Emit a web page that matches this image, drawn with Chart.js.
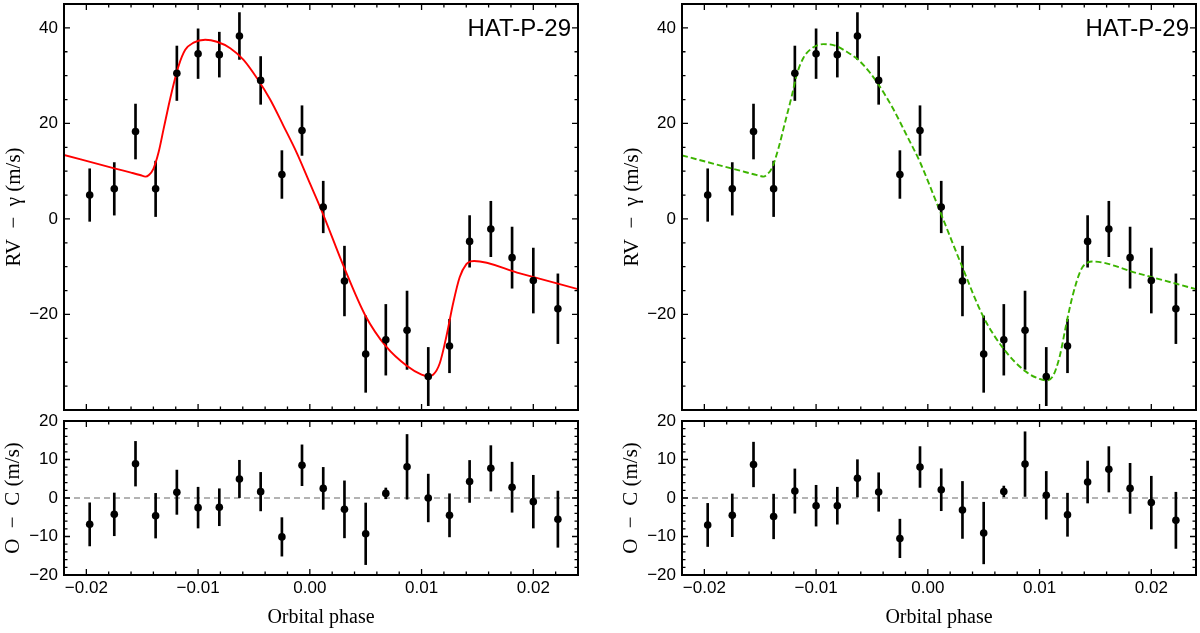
<!DOCTYPE html>
<html><head><meta charset="utf-8">
<script src="https://cdn.jsdelivr.net/npm/chart.js@4.4.1/dist/chart.umd.min.js"></script>
<style>
html,body{margin:0;padding:0;background:#fff;width:1200px;height:633px;overflow:hidden}
canvas{position:absolute}
</style></head><body>
<canvas id="lt" width="600" height="418" style="left:0;top:0"></canvas>
<canvas id="rt" width="600" height="418" style="left:600px;top:0"></canvas>
<canvas id="lb" width="600" height="233" style="left:0;top:400px"></canvas>
<canvas id="rb" width="600" height="233" style="left:600px;top:400px"></canvas>
<script>
// ---- data ----
const targetName = 'HAT-P-29';
const phase = [-0.0197, -0.0175, -0.0156, -0.0138, -0.0119, -0.0100, -0.0081, -0.0063, -0.0044, -0.0025, -0.0007, 0.0012,
               0.0031, 0.0050, 0.0068, 0.0087, 0.0106, 0.0125, 0.0143, 0.0162, 0.0181, 0.0200, 0.0222];
const rv = [5.0, 6.3, 18.3, 6.3, 30.5, 34.6, 34.4, 38.3, 29.0, 9.3, 18.5, 2.5,
            -13.0, -28.3, -25.3, -23.3, -33.0, -26.6, -4.7, -2.1, -8.1, -12.9, -18.8];
const rvErr = [5.5, 5.5, 5.75, 5.8, 5.7, 5.2, 4.7, 4.9, 5.0, 5.0, 5.2, 5.4,
               7.3, 8.0, 7.4, 8.2, 6.1, 5.6, 5.4, 5.8, 6.4, 6.8, 7.3];
const resLeft = [-6.85, -4.25, 8.9, -4.6, 1.5, -2.5, -2.4, 4.95, 1.65, -10.1, 8.5, 2.5,
                 -2.95, -9.3, 1.2, 8.1, 0.0, -4.5, 4.3, 7.7, 2.8, -0.95, -5.5];
const resRight = [-7.0, -4.5, 8.7, -4.8, 1.8, -2.0, -2.0, 5.1, 1.55, -10.5, 8.05, 2.15,
                  -3.1, -9.1, 1.7, 8.8, 0.7, -4.35, 4.15, 7.45, 2.5, -1.2, -5.8];
const resErr = [5.6, 5.55, 5.8, 5.8, 5.75, 5.3, 4.8, 4.85, 5.0, 5.0, 5.3, 5.45,
                7.4, 8.0, 1.4, 8.4, 6.2, 5.6, 5.45, 5.9, 6.5, 6.85, 7.3];
const redPhase = [-0.022, -0.0175, -0.0160, -0.0152, -0.0147, -0.0144, -0.0140, -0.01353, -0.01309, -0.01264, -0.01219,
                  -0.01175, -0.01115, -0.0104, -0.00936, -0.00832, -0.00712, -0.00593, -0.00474, -0.00355, -0.00236,
                  -0.00116, 0.0, 0.0011, 0.00306, 0.00494, 0.00682, 0.0087, 0.0100, 0.01058, 0.01103, 0.01163,
                  0.01222, 0.01282, 0.01341, 0.01401, 0.0144, 0.0147, 0.0188, 0.024];
const redModel = [13.4, 10.6, 9.7, 9.2, 8.85, 9.2, 10.5, 14.0, 18.8, 23.7, 28.2,
                  32.0, 35.4, 36.9, 37.5, 37.1, 35.75, 33.3, 29.5, 25.0, 19.5,
                  13.8, 7.5, 1.5, -10.1, -20.1, -26.7, -30.8, -32.6, -32.9, -32.6, -30.2,
                  -24.6, -17.7, -12.2, -9.46, -8.9, -8.8, -11.4, -14.7];
const greenPhase = [-0.022, -0.0168, -0.0155, -0.0150, -0.0147, -0.0144, -0.01397, -0.01338, -0.01278, -0.01218, -0.01173,
                    -0.01114, -0.01039, -0.00935, -0.0083, -0.00726, -0.00622, -0.00517, -0.00413, -0.00309, -0.00189,
                    -0.0007, 0.00062, 0.00309, 0.00497, 0.00685, 0.00873, 0.0100, 0.0106, 0.0112, 0.0118, 0.0124,
                    0.0130, 0.01374, 0.01434, 0.0147, 0.0188, 0.024];
const greenModel = [13.3, 10.1, 9.3, 9.0, 8.85, 9.3, 10.56, 14.7, 20.2, 25.7, 30.2,
                    33.7, 35.7, 36.6, 36.3, 35.0, 33.3, 30.6, 27.1, 23.0, 17.5,
                    11.9, 4.35, -10.1, -20.5, -27.4, -31.9, -33.5, -33.8, -32.9, -28.8, -21.9,
                    -15.7, -10.5, -9.1, -8.9, -11.4, -14.7];
const xTicks = [-0.02, -0.01, 0.0, 0.01, 0.02];
const topYTicks = [-20, 0, 20, 40];
const resYTicks = [-20, -10, 0, 10, 20];
const zeroLine = [-0.022, 0.024];

// ---- helpers ----
const MINUS = '\u2212';
const fmtX = v => Math.abs(v) < 1e-9 ? '0.00' : (v < 0 ? MINUS : '') + Math.abs(v).toFixed(2);
const fmtY = v => Math.abs(v) < 1e-9 ? '0' : (v < 0 ? MINUS : '') + Math.abs(v);
const sans = '"Liberation Sans", Arial, sans-serif';
const serif = '"Liberation Serif", "Times New Roman", serif';

const framePlugin = {
  id: 'frame',
  afterDraw(chart, args, o) {
    const {ctx, chartArea: a, scales: {x, y}} = chart;
    ctx.save();
    ctx.strokeStyle = '#000';
    ctx.lineWidth = 1.3;
    const tickSet = (scale, step, major, horiz) => {
      const n0 = Math.ceil(scale.min / step - 1e-6), n1 = Math.floor(scale.max / step + 1e-6);
      for (let k = n0; k <= n1; k++) {
        const v = k * step;
        const isMajor = Math.abs(v / major - Math.round(v / major)) < 1e-6;
        const len = isMajor ? o.majorLen : o.minorLen;
        const p = scale.getPixelForValue(v);
        ctx.beginPath();
        if (horiz) {
          ctx.moveTo(p, a.bottom); ctx.lineTo(p, a.bottom - len);
          ctx.moveTo(p, a.top); ctx.lineTo(p, a.top + len);
        } else {
          ctx.moveTo(a.left, p); ctx.lineTo(a.left + len, p);
          ctx.moveTo(a.right, p); ctx.lineTo(a.right - len, p);
        }
        ctx.stroke();
      }
    };
    tickSet(x, o.xMinor, o.xMajor, true);
    tickSet(y, o.yMinor, o.yMajor, false);
    ctx.lineWidth = 2;
    ctx.strokeRect(a.left, a.top, a.right - a.left, a.bottom - a.top);
    ctx.restore();
  }
};
const namePlugin = {
  id: 'name',
  afterDraw(chart, args, o) {
    if (!o.text) return;
    const {ctx, chartArea: a} = chart;
    ctx.save();
    ctx.font = '24px ' + sans;
    ctx.textAlign = 'right';
    ctx.textBaseline = 'alphabetic';
    ctx.fillStyle = '#000';
    ctx.fillText(o.text, a.right - 7, a.top + 32);
    ctx.restore();
  }
};
const zeroPad = s => { s.paddingTop = 0; s.paddingBottom = 0; s.paddingLeft = 0; s.paddingRight = 0; };

function makeChart(id, opt) {
  const {L, R, H, top, bottom, isTop, yMin, yMax, yTicks, yTitle, titlePad, datasets, yMinor, yMajor} = opt;
  new Chart(document.getElementById(id), {
    type: 'scatter',
    data: {datasets},
    plugins: [framePlugin, namePlugin],
    options: {
      responsive: false,
      animation: false,
      events: [],
      layout: {padding: {left: 0, top: top, right: 600 - R, bottom: isTop ? H - bottom : 0}},
      plugins: {
        legend: {display: false},
        tooltip: {enabled: false},
        frame: {xMinor: 0.002, xMajor: 0.01, yMinor, yMajor, majorLen: 6, minorLen: 3.5},
        name: {text: isTop ? targetName : ''}
      },
      scales: {
        x: {
          type: 'linear', min: -0.022, max: 0.024, offset: false,
          display: !isTop,
          grid: {display: false, drawTicks: false, offset: false},
          border: {display: false},
          afterBuildTicks: s => { s.ticks = xTicks.map(v => ({value: v})); },
          afterFit: s => { s.height = H - bottom; zeroPad(s); },
          ticks: {callback: v => fmtX(v), font: {family: sans, size: 17}, color: '#000', padding: 3, maxRotation: 0, autoSkip: false},
          title: {display: true, text: 'Orbital phase', font: {family: serif, size: 20}, color: '#000', padding: {top: 0, bottom: 3}}
        },
        y: {
          type: 'linear', min: yMin, max: yMax,
          grid: {display: false, drawTicks: false},
          border: {display: false},
          afterBuildTicks: s => { s.ticks = yTicks.map(v => ({value: v})); },
          afterFit: s => { s.width = L; zeroPad(s); },
          ticks: {callback: v => fmtY(v), font: {family: sans, size: 17}, color: '#000', padding: 6, autoSkip: false},
          title: {display: true, text: yTitle, font: {family: serif, size: 21}, color: '#000', padding: {top: titlePad, bottom: 0}}
        }
      }
    }
  });
}

function topSets(modelPhase, model, color, dash) {
  return [
    {type: 'scatter', data: phase.map((x, i) => ({x, y: rv[i]})), pointRadius: 3.8, pointBackgroundColor: '#000', pointBorderWidth: 0, order: 0},
    {type: 'line', data: modelPhase.map((x, i) => ({x, y: model[i]})), borderColor: color, borderWidth: 1.9, borderDash: dash,
     pointRadius: 0, fill: false, cubicInterpolationMode: 'monotone', order: 1},
    {type: 'bar', data: phase.map((x, i) => ({x, y: [rv[i] - rvErr[i], rv[i] + rvErr[i]]})), backgroundColor: '#000',
     barThickness: 2, grouped: false, order: 2}
  ];
}
function resSets(res) {
  return [
    {type: 'scatter', data: phase.map((x, i) => ({x, y: res[i]})), pointRadius: 3.8, pointBackgroundColor: '#000', pointBorderWidth: 0, order: 0},
    {type: 'bar', data: phase.map((x, i) => ({x, y: [res[i] - resErr[i], res[i] + resErr[i]]})), backgroundColor: '#000',
     barThickness: 2, grouped: false, order: 1},
    {type: 'line', data: zeroLine.map(x => ({x, y: 0})), borderColor: '#9a9a9a', borderWidth: 1.5, borderDash: [6, 4],
     pointRadius: 0, fill: false, order: 2}
  ];
}

const rvTitle = 'RV\u2002\u2212\u2002\u03b3 (m/s)';
const ocTitle = 'O\u2002\u2212\u2002C (m/s)';
makeChart('lt', {L: 64, R: 578, H: 418, top: 4, bottom: 414, isTop: true, yMin: -40, yMax: 45, yTicks: topYTicks,
  yTitle: rvTitle, titlePad: 2, yMinor: 5, yMajor: 20, datasets: topSets(redPhase, redModel, '#ff0000', [])});
makeChart('rt', {L: 82, R: 596, H: 418, top: 4, bottom: 414, isTop: true, yMin: -40, yMax: 45, yTicks: topYTicks,
  yTitle: rvTitle, titlePad: 20, yMinor: 5, yMajor: 20, datasets: topSets(greenPhase, greenModel, '#3cb400', [6, 3])});
makeChart('lb', {L: 64, R: 578, H: 233, top: 21, bottom: 175, isTop: false, yMin: -20, yMax: 20, yTicks: resYTicks,
  yTitle: ocTitle, titlePad: 1, yMinor: 2, yMajor: 10, datasets: resSets(resLeft)});
makeChart('rb', {L: 82, R: 596, H: 233, top: 21, bottom: 175, isTop: false, yMin: -20, yMax: 20, yTicks: resYTicks,
  yTitle: ocTitle, titlePad: 19, yMinor: 2, yMajor: 10, datasets: resSets(resRight)});
</script>
</body></html>
